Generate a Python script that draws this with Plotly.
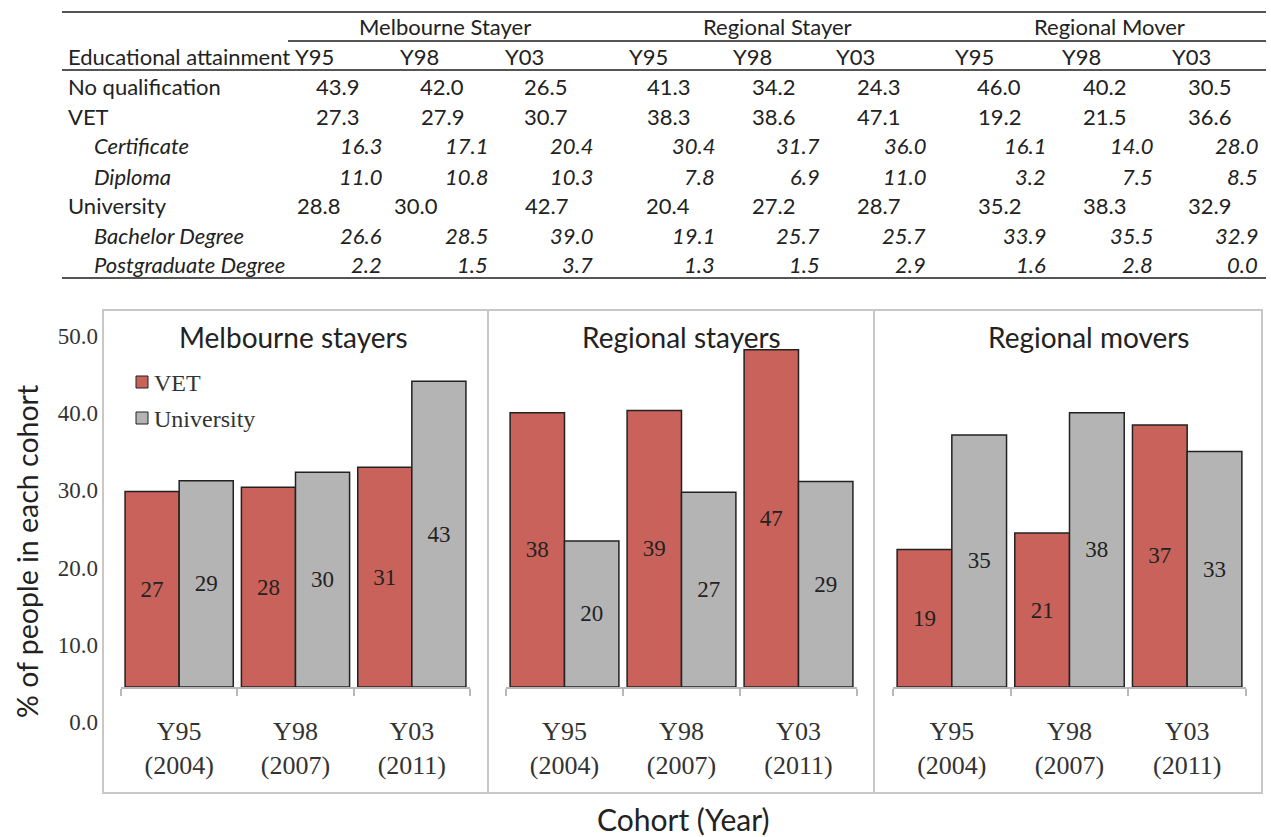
import plotly.graph_objects as go

W, H = 1271, 837


def px(x):
    return x / W


def py(y):
    return 1 - y / H


# ---------------- table data ----------------
groups = ["Melbourne Stayer", "Regional Stayer", "Regional Mover"]
cohorts = ["Y95", "Y98", "Y03"]
row_labels = ["No qualification", "VET", "Certificate", "Diploma",
              "University", "Bachelor Degree", "Postgraduate Degree"]
row_italic = [False, False, True, True, False, True, True]

no_qualification = [43.9, 42.0, 26.5, 41.3, 34.2, 24.3, 46.0, 40.2, 30.5]
vet = [27.3, 27.9, 30.7, 38.3, 38.6, 47.1, 19.2, 21.5, 36.6]
certificate = [16.3, 17.1, 20.4, 30.4, 31.7, 36.0, 16.1, 14.0, 28.0]
diploma = [11.0, 10.8, 10.3, 7.8, 6.9, 11.0, 3.2, 7.5, 8.5]
university = [28.8, 30.0, 42.7, 20.4, 27.2, 28.7, 35.2, 38.3, 32.9]
bachelor = [26.6, 28.5, 39.0, 19.1, 25.7, 25.7, 33.9, 35.5, 32.9]
postgraduate = [2.2, 1.5, 3.7, 1.3, 1.5, 2.9, 1.6, 2.8, 0.0]

table_rows = [no_qualification, vet, certificate, diploma,
              university, bachelor, postgraduate]

# ---------------- bar chart data ----------------
panel_titles = ["Melbourne stayers", "Regional stayers", "Regional movers"]
cohort_ticks = ["Y95<br>(2004)", "Y98<br>(2007)", "Y03<br>(2011)"]
vet_labels = ["27", "28", "31", "38", "39", "47", "19", "21", "37"]
uni_labels = ["29", "30", "43", "20", "27", "29", "35", "38", "33"]
axis_ticks = [0, 10, 20, 30, 40, 50]

# ---------------- styling ----------------
SANS = "Lato, 'Open Sans', sans-serif"
SERIF = "'Liberation Serif', 'DejaVu Serif', serif"
TXT = "#222222"
RED = "#c9625a"
GREY = "#b4b4b4"
EDGE = "#222222"
FRAME = "#c8c8c8"
RULE = "#555555"

fig = go.Figure()

# bar panels
panel_x = [(121, 470), (506, 857), (893, 1246)]
bar_base, bar_top = 687, 329  # pixel rows of value 0 and 50 on the bar scale
for i in range(3):
    sfx = "" if i == 0 else str(i + 1)
    sl = slice(3 * i, 3 * i + 3)
    fig.add_trace(go.Bar(
        x=cohort_ticks, y=vet[sl], name="VET",
        text=vet_labels[sl], textposition="inside", insidetextanchor="middle",
        textangle=0, constraintext="none",
        textfont=dict(family=SERIF, size=23, color=TXT),
        marker=dict(color=RED, line=dict(color=EDGE, width=1.5)),
        xaxis="x" + sfx, yaxis="y" + sfx, showlegend=False, hoverinfo="skip"))
    fig.add_trace(go.Bar(
        x=cohort_ticks, y=university[sl], name="University",
        text=uni_labels[sl], textposition="inside", insidetextanchor="middle",
        textangle=0, constraintext="none",
        textfont=dict(family=SERIF, size=23, color=TXT),
        marker=dict(color=GREY, line=dict(color=EDGE, width=1.5)),
        xaxis="x" + sfx, yaxis="y" + sfx, showlegend=False, hoverinfo="skip"))
    x0, x1 = panel_x[i]
    fig.layout["xaxis" + sfx] = dict(
        domain=[px(x0), px(x1)], anchor="y" + sfx, type="category",
        categoryorder="array", categoryarray=cohort_ticks,
        tickson="boundaries", ticks="outside", ticklen=7, tickwidth=2,
        tickcolor="#b8b8b8", showline=True, linecolor="#b8b8b8", linewidth=2,
        showgrid=False, zeroline=False, ticklabelstandoff=20,
        tickfont=dict(family=SERIF, size=26, color="#333333"))
    fig.layout["yaxis" + sfx] = dict(
        domain=[py(bar_base), py(bar_top)], anchor="x" + sfx,
        range=[0, 50], visible=False)

# printed value scale on the left (an invisible carrier trace keeps the axis drawn)
fig.add_trace(go.Scatter(
    x=[0] * len(axis_ticks), y=axis_ticks, mode="markers",
    marker=dict(opacity=0), xaxis="x4", yaxis="y4",
    showlegend=False, hoverinfo="skip"))
fig.layout["xaxis4"] = dict(domain=[px(99), px(101)], anchor="y4", visible=False,
                            range=[-1, 1])
fig.layout["yaxis4"] = dict(
    domain=[py(722), py(336)], anchor="x4", range=[0, 50],
    tickvals=axis_ticks, tickformat=".1f", ticks="", showline=False,
    showgrid=False, zeroline=False, automargin=False,
    tickfont=dict(family=SERIF, size=23, color="#333333"))

shapes = []
annotations = []

# panel frames
shapes.append(dict(type="rect", xref="paper", yref="paper",
                   x0=px(103), x1=px(1262), y0=py(793), y1=py(310),
                   line=dict(color=FRAME, width=2)))
for xv in (488, 874):
    shapes.append(dict(type="line", xref="paper", yref="paper",
                       x0=px(xv), x1=px(xv), y0=py(793), y1=py(310),
                       line=dict(color=FRAME, width=2)))

# panel titles
for t, cx in zip(panel_titles, [293, 681, 1088]):
    annotations.append(dict(text=t, x=px(cx), y=py(337), xref="paper", yref="paper",
                            showarrow=False, xanchor="center", yanchor="middle",
                            font=dict(family=SANS, size=28, color=TXT)))

# legend
for name, col, yc in (("VET", RED, 382), ("University", GREY, 418)):
    shapes.append(dict(type="rect", xref="paper", yref="paper",
                       x0=px(136), x1=px(148), y0=py(yc + 6), y1=py(yc - 6),
                       fillcolor=col, line=dict(color=EDGE, width=1)))
    annotations.append(dict(text=name, x=px(152), y=py(yc + 1), xref="paper", yref="paper",
                            showarrow=False, xanchor="left", yanchor="middle",
                            font=dict(family=SERIF, size=24, color="#333333")))

# axis titles
annotations.append(dict(text="% of people in each cohort", x=px(27), y=py(552),
                        xref="paper", yref="paper", showarrow=False, textangle=-90,
                        xanchor="center", yanchor="middle",
                        font=dict(family=SANS, size=28.5, color=TXT)))
annotations.append(dict(text="Cohort (Year)", x=px(683), y=py(819),
                        xref="paper", yref="paper", showarrow=False,
                        xanchor="center", yanchor="middle",
                        font=dict(family=SANS, size=30, color=TXT)))

# ---------------- table ----------------
for yv, xa in ((12, 62), (41, 288), (70, 62), (278, 62)):
    shapes.append(dict(type="line", xref="paper", yref="paper",
                       x0=px(xa), x1=px(1266), y0=py(yv), y1=py(yv),
                       line=dict(color=RULE, width=2)))

TFONT = dict(family=SANS, size=22, color=TXT)
for g, cx in zip(groups, [445, 778, 1109]):
    annotations.append(dict(text=g, x=px(cx), y=py(27), xref="paper", yref="paper",
                            showarrow=False, xanchor="center", yanchor="middle", font=TFONT))
annotations.append(dict(text="Educational attainment", x=px(66), y=py(57),
                        xref="paper", yref="paper", showarrow=False,
                        xanchor="left", yanchor="middle", font=TFONT))
head_x = [293, 398, 503, 627, 731, 834, 953, 1060, 1170]
for k, hx in enumerate(head_x):
    annotations.append(dict(text=cohorts[k % 3], x=px(hx), y=py(57),
                            xref="paper", yref="paper", showarrow=False,
                            xanchor="left", yanchor="middle", font=TFONT))

right_regular = [361, 466, 569, 692, 797, 902, 1023, 1128, 1233]
right_italic = [384, 490, 595, 717, 822, 928, 1048, 1155, 1260]
right_university = [342, 440, 570, 692, 797, 902, 1023, 1128, 1233]
row_y = [87, 116, 146, 176, 205, 235, 264]

for r, (lab, ital, vals) in enumerate(zip(row_labels, row_italic, table_rows)):
    f = dict(TFONT)
    if ital:
        f["style"] = "italic"
    annotations.append(dict(text=lab, x=px(92 if ital else 66), y=py(row_y[r]),
                            xref="paper", yref="paper", showarrow=False,
                            xanchor="left", yanchor="middle", font=f))
    if ital:
        edges = right_italic
    elif lab == "University":
        edges = right_university
    else:
        edges = right_regular
    for v, ex in zip(vals, edges):
        annotations.append(dict(text=f"{v:.1f}", x=px(ex), y=py(row_y[r]),
                                xref="paper", yref="paper", showarrow=False,
                                xanchor="right", yanchor="middle", font=f))

fig.update_layout(
    width=W, height=H, margin=dict(l=0, r=0, t=0, b=0, autoexpand=False),
    paper_bgcolor="white", plot_bgcolor="white",
    barmode="group", bargap=0.07, bargroupgap=0,
    shapes=shapes, annotations=annotations, showlegend=False,
)

fig.write_html("out.html")
